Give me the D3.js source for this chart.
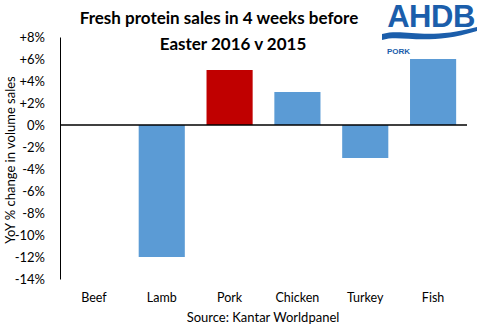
<!DOCTYPE html>
<html><head><meta charset="utf-8">
<script src="https://d3js.org/d3.v7.min.js"></script>
<style>body{margin:0;background:#fff;} svg{display:block;font-family:Lato,"Open Sans",sans-serif;}</style>
</head><body>
<script>
const categories = ["Beef","Lamb","Pork","Chicken","Turkey","Fish"];
const values = [0,-12,5,3,-3,6];
const barColors = ["#5b9bd5","#5b9bd5","#c00000","#5b9bd5","#5b9bd5","#5b9bd5"];
const yTicks = [8,6,4,2,0,-2,-4,-6,-8,-10,-12,-14];
const titleLines = ["Fresh protein sales in 4 weeks before","Easter 2016 v 2015"];

const W=480,H=333;
const svg=d3.select("body").append("svg").attr("width",W).attr("height",H);
const x=d3.scaleBand().domain(categories).range([60,467]).paddingInner(0.32).paddingOuter(0.16);
const y=d3.scaleLinear().domain([-14,8]).range([279,37]);

// bars
svg.selectAll("rect.bar").data(categories).enter().append("rect")
  .attr("x",d=>x(d)).attr("width",x.bandwidth())
  .attr("y",(d,i)=>y(Math.max(0,values[i]))).attr("height",(d,i)=>Math.abs(y(values[i])-y(0)))
  .attr("fill",(d,i)=>barColors[i]);

// y axis
const ya=svg.append("g").attr("transform","translate(60,0)")
  .call(d3.axisLeft(y).tickValues(yTicks).tickSize(0).tickPadding(15)
    .tickFormat(d=>(d>0?"+":"")+d+"%"));
ya.select(".domain").attr("stroke","#000").attr("stroke-width",1);
ya.selectAll("text").attr("font-size",13).attr("fill","#000").attr("font-family","Lato, sans-serif");

// zero line
svg.append("line").attr("x1",60).attr("x2",467).attr("y1",y(0)).attr("y2",y(0)).attr("stroke","#000").attr("stroke-width",1.5);

// category labels
svg.selectAll("text.cat").data(categories).enter().append("text")
  .attr("x",d=>x(d)+x.bandwidth()/2).attr("y",302).attr("text-anchor","middle")
  .attr("font-size",12.5).text(d=>d);

svg.append("text").attr("x",263).attr("y",322).attr("text-anchor","middle").attr("font-size",13).text("Source: Kantar Worldpanel");

// y label
svg.append("text").attr("transform","translate(15,160) rotate(-90)").attr("text-anchor","middle")
  .attr("font-size",13).text("YoY % change in volume sales");

// title
const titleX=[219,233];
svg.selectAll("text.title").data(titleLines).enter().append("text")
  .attr("x",(d,i)=>titleX[i]).attr("y",(d,i)=>24+i*26).attr("text-anchor","middle")
  .attr("font-size",17).attr("font-weight","bold").text(d=>d);

// logo
const logo=svg.append("g");
logo.append("text").attr("x",431).attr("y",27).attr("text-anchor","middle").attr("font-family","Liberation Sans, Arial, sans-serif")
  .attr("font-size",31).attr("font-weight","bold").attr("fill","#1b5eab").attr("letter-spacing",-0.5).text("AHDB");
logo.append("path").attr("d","M382,34 C405,28 425,41 477,27 L477,31 C425,47 402,34 382,40 Z").attr("fill","#1b5eab");
logo.append("text").attr("x",387).attr("y",54).attr("font-family","Liberation Sans, Arial, sans-serif").attr("font-size",8).attr("font-weight","bold").attr("fill","#1b5eab").text("PORK");
</script>
</body></html>
